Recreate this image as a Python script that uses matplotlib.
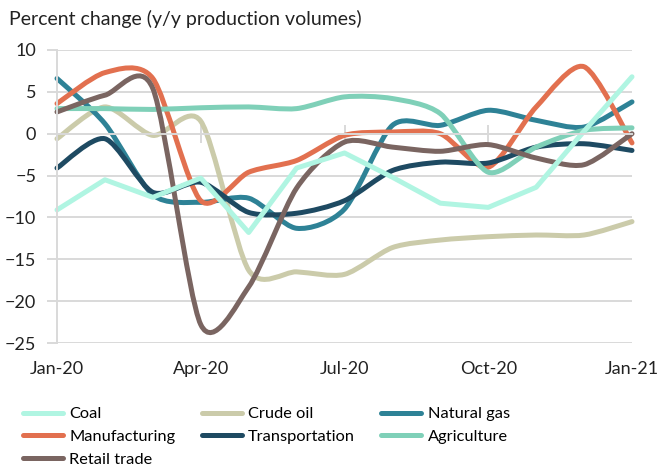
import matplotlib
matplotlib.use("Agg")
import matplotlib.pyplot as plt
import matplotlib.patches as patches
from matplotlib.lines import Line2D
from matplotlib.path import Path
import numpy as np

plt.rcParams['font.family'] = ['Lato', 'DejaVu Sans']
plt.rcParams['font.size'] = 13

months = ['Jan-20', 'Feb-20', 'Mar-20', 'Apr-20', 'May-20', 'Jun-20', 'Jul-20',
          'Aug-20', 'Sep-20', 'Oct-20', 'Nov-20', 'Dec-20', 'Jan-21']
tick_labels = ['Jan-20', 'Apr-20', 'Jul-20', 'Oct-20', 'Jan-21']

coal = [-9.1, -5.5, -7.6, -5.3, -11.8, -4.1, -2.3, -5.2, -8.3, -8.8, -6.4, 0.3, 6.8]
crude_oil = [-0.6, 3.2, -0.2, 1.5, -16.3, -16.5, -16.8, -13.6, -12.7, -12.3, -12.1, -12.1, -10.5]
natural_gas = [6.6, 1.2, -7.3, -8.2, -7.7, -11.3, -9.0, 1.0, 1.0, 2.8, 1.6, 0.8, 3.8]
manufacturing = [3.6, 7.3, 6.6, -8.0, -4.6, -3.2, -0.2, 0.2, 0.0, -4.0, 3.2, 8.0, -1.1]
transportation = [-4.1, -0.6, -7.0, -5.8, -9.4, -9.5, -8.0, -4.4, -3.4, -3.5, -1.6, -1.2, -2.0]
agriculture = [3.0, 3.0, 2.9, 3.1, 3.2, 3.0, 4.4, 4.2, 2.4, -4.6, -1.6, 0.4, 0.7]
retail_trade = [2.6, 4.6, 5.4, -22.8, -18.3, -6.5, -1.0, -1.6, -2.1, -1.3, -2.9, -3.7, 0.0]

series = [
    ('Coal', coal, '#B0F5E2', False),
    ('Crude oil', crude_oil, '#CBCBAA', True),
    ('Natural gas', natural_gas, '#2E8296', True),
    ('Manufacturing', manufacturing, '#E2704F', True),
    ('Transportation', transportation, '#1E4A62', True),
    ('Agriculture', agriculture, '#7FD0B8', True),
    ('Retail trade', retail_trade, '#7A6561', True),
]

grid_col = '#D9D9D9'
lw = 3.6
tension = 0.8


def smooth_path(x, y):
    # catmull-rom -> cubic bezier, a bit tighter, like Excel's smoothed lines
    p = np.column_stack([x, y]).astype(float)
    ext = np.vstack([p[0], p, p[-1]])
    verts = [p[0]]
    codes = [Path.MOVETO]
    for i in range(len(p) - 1):
        p0, p1, p2, p3 = ext[i], ext[i + 1], ext[i + 2], ext[i + 3]
        verts += [p1 + tension * (p2 - p0) / 6, p2 - tension * (p3 - p1) / 6, p2]
        codes += [Path.CURVE4] * 3
    return Path(verts, codes)


fig = plt.figure(figsize=(6.62, 4.69), dpi=100)
ax = fig.add_axes([57 / 662, 1 - 343 / 469, (632 - 57) / 662, (343 - 50) / 469])

x = np.arange(len(months))
handles = {}
for name, vals, col, smooth in series:
    if smooth:
        patch = patches.PathPatch(smooth_path(x, vals), facecolor='none', edgecolor=col,
                                  lw=lw, capstyle='round', joinstyle='round', clip_on=False)
        ax.add_patch(patch)
    else:
        ax.plot(x, vals, color=col, lw=lw, solid_capstyle='round',
                solid_joinstyle='round', clip_on=False)
    handles[name] = Line2D([], [], color=col, lw=lw, solid_capstyle='round')

ax.set_xlim(0, len(months) - 1)
ax.set_ylim(-25, 10)
ax.set_yticks(np.arange(-25, 11, 5))
ax.yaxis.grid(True, color=grid_col, lw=1.4)
ax.set_axisbelow(True)

for s in ['top', 'right']:
    ax.spines[s].set_visible(False)
ax.spines['left'].set_color(grid_col)
ax.spines['left'].set_linewidth(1.4)
ax.spines['bottom'].set_position(('data', 0))
ax.spines['bottom'].set_color(grid_col)
ax.spines['bottom'].set_linewidth(1.4)

ax.set_xticks([3, 6, 9])
ax.tick_params(axis='x', direction='inout', length=13, width=1.4, color=grid_col,
               labelbottom=False)
ax.tick_params(axis='y', direction='out', length=7, width=1.4, color=grid_col,
               pad=8, labelcolor='#222222')

sec = ax.secondary_xaxis('bottom')
sec.set_xticks([months.index(t) for t in tick_labels], tick_labels)
sec.tick_params(length=0, pad=13, labelcolor='#222222')
sec.spines['bottom'].set_visible(False)

fig.text(9 / 662, 1 - 19 / 469, 'Percent change (y/y production volumes)',
         ha='left', va='center', color='#222222', fontsize=14)

order = ['Coal', 'Manufacturing', 'Retail trade', 'Crude oil', 'Transportation',
         'Natural gas', 'Agriculture']
fig.legend([handles[n] for n in order], order, ncol=3, frameon=False, fontsize=11.8,
           loc='upper left', bbox_to_anchor=(23 / 662, 1 - 407 / 469),
           borderpad=0, borderaxespad=0, handlelength=2.45, handletextpad=0.38,
           columnspacing=1.6, labelspacing=0.5)

fig.savefig('out.png', dpi=100)
